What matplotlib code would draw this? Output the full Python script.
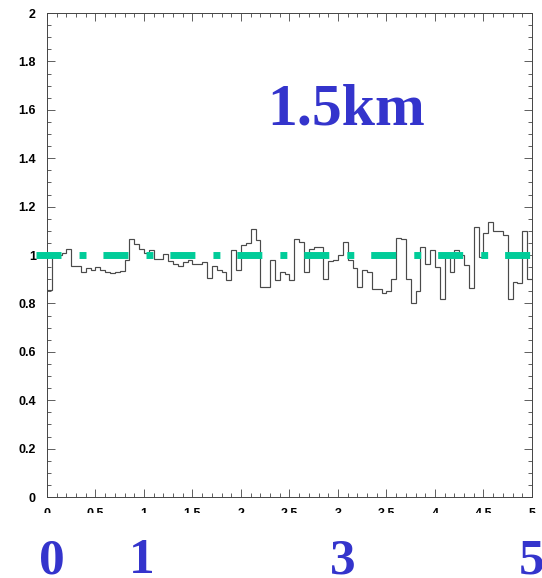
"""Ratio histogram vs distance with a dash-dot reference at 1."""

import matplotlib

matplotlib.use("Agg")
import matplotlib.pyplot as plt
import numpy as np
from matplotlib.patches import Rectangle
from matplotlib.ticker import MultipleLocator, FuncFormatter

# bin contents, 100 bins over 0..5
ratio = [
    0.855, 1.00, 1.00, 1.01, 1.025, 0.955, 0.955, 0.93, 0.945, 0.94,
    0.95, 0.94, 0.93, 0.925, 0.93, 0.935, 0.98, 1.065, 1.045, 1.025,
    1.01, 1.02, 0.985, 0.985, 1.005, 0.975, 0.965, 0.955, 0.97, 0.98,
    0.965, 0.965, 0.97, 0.905, 0.955, 0.94, 0.93, 0.897, 1.02, 0.94,
    1.04, 1.05, 1.107, 1.063, 0.868, 0.868, 0.978, 0.897, 0.93, 0.92,
    0.897, 1.066, 1.055, 0.93, 1.025, 1.035, 1.035, 0.90, 0.975, 0.98,
    1.0, 1.055, 0.98, 0.945, 0.868, 0.94, 0.93, 0.86, 0.86, 0.845,
    0.85, 0.90, 1.07, 1.065, 0.90, 0.80, 0.85, 1.034, 0.963, 1.02,
    0.95, 0.82, 1.0, 0.93, 1.02, 1.0, 0.958, 0.863, 1.117, 0.99,
    1.09, 1.138, 1.10, 1.10, 1.085, 0.82, 0.89, 0.885, 1.10, 0.90,
]
x_range = (0.0, 5.0)
ref_level = 1.0
label_text = "1.5km"
marker_labels = ["0", "1", "3", "5"]
marker_pos = [0.05, 0.98, 3.05, 5.0]

BLUE = "#3434cc"
GREEN = "#00cc99"
AXIS = "#444444"


def fmt_root(v, _pos):
    s = f"{v:.1f}"
    return s[:-2] if s.endswith(".0") else s


def main() -> None:
    plt.rcParams["lines.scale_dashes"] = False
    fig = plt.figure(figsize=(5.42, 5.78), dpi=100)
    ax = fig.add_axes([0.0867, 0.140, 0.8948, 0.8374])

    edges = np.linspace(x_range[0], x_range[1], len(ratio) + 1)
    ax.stairs(ratio, edges, baseline=None, color="#4a4a4a", linewidth=0.85, zorder=2)

    ax.plot(
        [-0.113, x_range[1]],
        [ref_level, ref_level],
        color=GREEN,
        linewidth=5.0,
        dashes=[18, 13, 5, 12.2],
        dash_capstyle="butt",
        clip_on=False,
        zorder=3,
    )

    ax.set_xlim(*x_range)
    ax.set_ylim(0, 2)
    ax.xaxis.set_major_locator(MultipleLocator(0.5))
    ax.xaxis.set_minor_locator(MultipleLocator(0.1))
    ax.yaxis.set_major_locator(MultipleLocator(0.2))
    ax.yaxis.set_minor_locator(MultipleLocator(0.05))
    ax.xaxis.set_major_formatter(FuncFormatter(fmt_root))
    ax.yaxis.set_major_formatter(FuncFormatter(fmt_root))
    ax.tick_params(
        which="both", direction="in", top=True, right=True, color=AXIS, width=0.6
    )
    ax.tick_params(which="major", length=6, pad=8)
    ax.tick_params(which="minor", length=3)
    for lab in ax.get_xticklabels() + ax.get_yticklabels():
        lab.set_fontfamily("Liberation Sans")
        lab.set_fontweight("bold")
        lab.set_fontsize(9)
    for sp in ax.spines.values():
        sp.set_color(AXIS)
        sp.set_linewidth(0.7)

    ax.text(
        2.27, 1.54, label_text,
        color=BLUE, fontsize=43, fontweight="bold",
        family="Liberation Serif", ha="left", va="baseline",
    )

    # mask the lower part of the x tick labels, as in the original
    fig.patches.append(
        Rectangle((0, 0), 1, (578 - 513) / 578, transform=fig.transFigure,
                  facecolor="white", edgecolor="none", zorder=5)
    )

    trans = matplotlib.transforms.blended_transform_factory(ax.transData, fig.transFigure)
    for txt, xpos in zip(marker_labels, marker_pos):
        fig.text(
            xpos, 5 / 578, txt, transform=trans,
            color=BLUE, fontsize=37, fontweight="bold",
            family="Liberation Serif", ha="center", va="baseline", zorder=6,
        )

    fig.savefig("out.png", dpi=100, facecolor="white")
    plt.close(fig)


if __name__ == "__main__":
    main()
